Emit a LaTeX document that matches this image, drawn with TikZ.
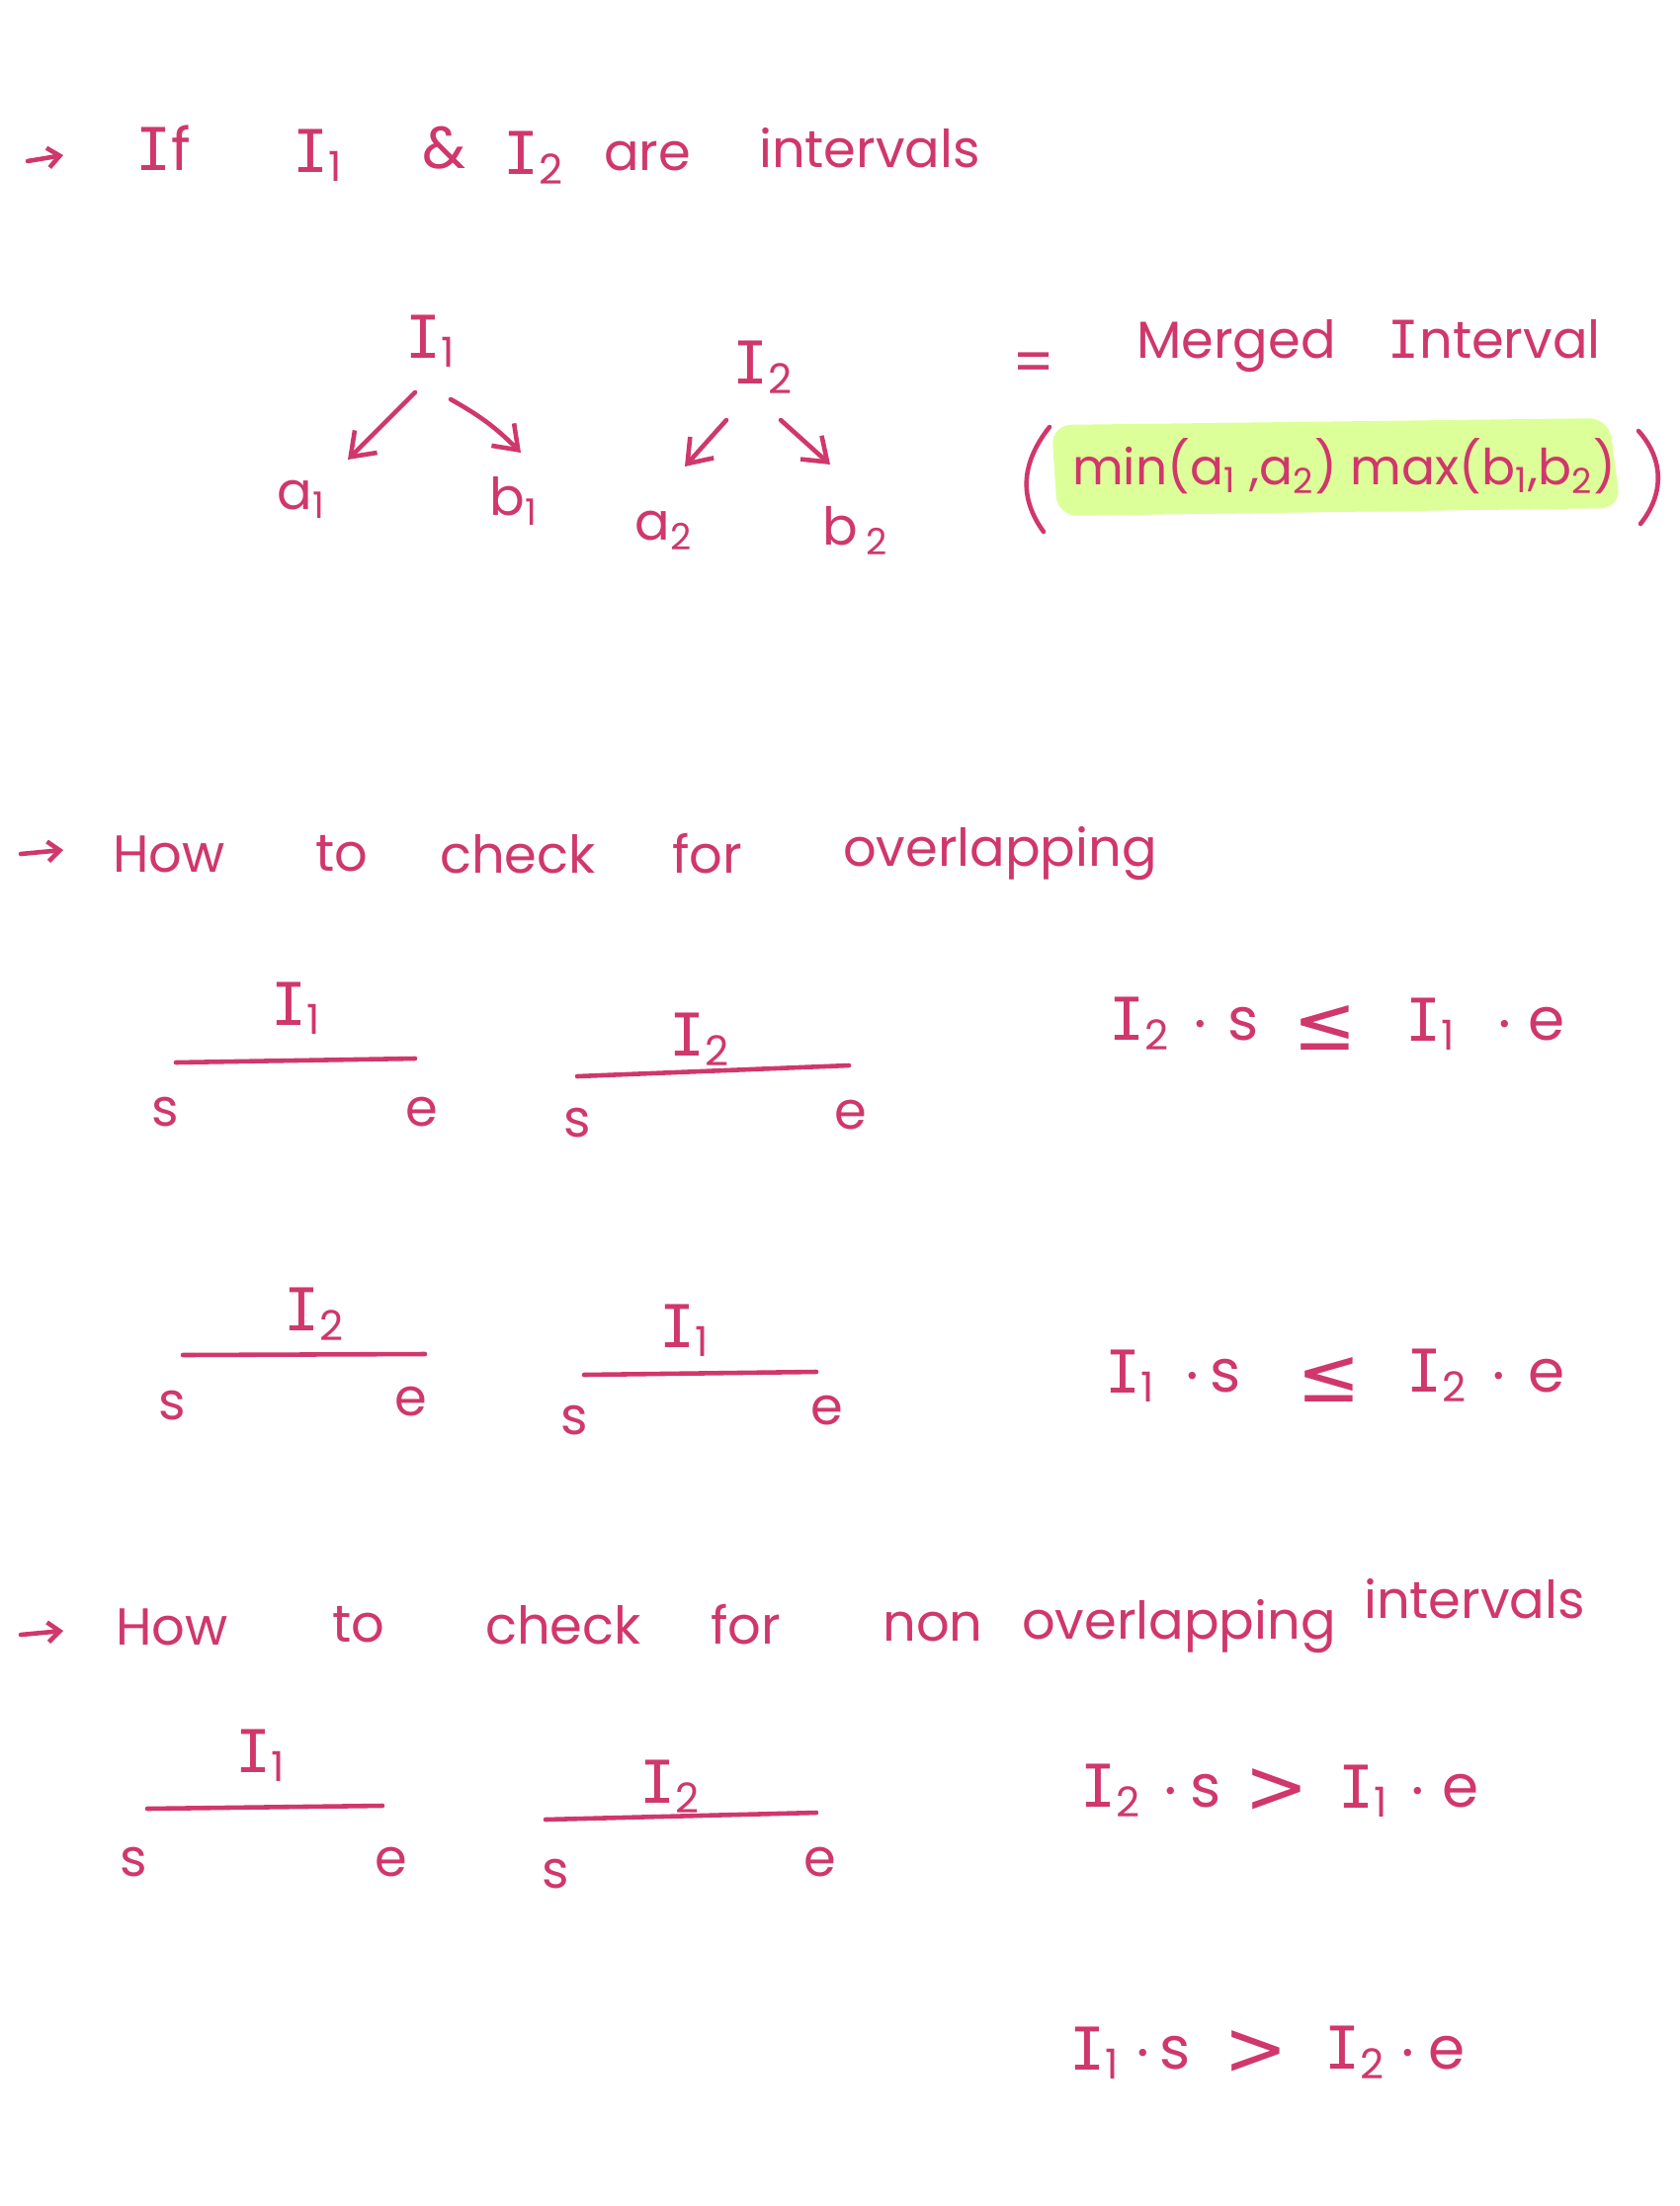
\documentclass[tikz,border=0pt]{standalone}
\usepackage{fontspec}
\usetikzlibrary{arrows.meta}
\setmainfont{Poppins}
\newfontfamily\symfont{DejaVu Sans}
\newfontfamily\Ifont{DejaVu Sans Mono}
\definecolor{ink}{HTML}{D0376B}
\definecolor{hl}{HTML}{DDFF99}
\newcommand{\myI}{{\Ifont I}}
\newcommand{\Ia}{\myI\textsubscript{1}}
\newcommand{\Ib}{\myI\textsubscript{2}}
\begin{document}
\begin{tikzpicture}[x=0.1mm,y={(0mm,-0.1mm)},
  txt/.style={text=ink,font=\fontsize{15}{18}\selectfont,inner sep=0pt},
  big/.style={text=ink,font=\fontsize{17}{20}\selectfont,inner sep=0pt},
  pen/.style={draw=ink,line width=1.3pt,line cap=round,line join=round},
  arr/.style={pen,-{Straight Barb[length=2.2mm,width=3.2mm]}},
  bullet/.style={pen,-{Straight Barb[length=1.2mm,width=2mm]}}]
\useasboundingbox[fill=white] (0,0) rectangle (1700,2232);

% ---- heading 1
\coordinate (h1a) at (28,163); \coordinate (h1b) at (64,157);
\draw[bullet] (h1a) -- (h1b);
\node[big] (if) at (165,150) {\myI f};
\node[big] (hI1) at (322,157) {\Ia};
\node[big] (amp) at (450,150) {\&};
\node[big] (hI2) at (540,160) {\Ib};
\node[txt] (are) at (655,158) {are};
\node[txt] (intervals) at (880,150) {intervals};

% ---- trees
\node[big] (tI1) at (436,345) {\Ia};
\node[txt] (ta1) at (305,505) {a\textsubscript{1}};
\node[txt] (tb1) at (520,507) {b\textsubscript{1}};
\coordinate (t1l0) at (420,397); \coordinate (t1l1) at (352,465);
\coordinate (t1r0) at (456,404); \coordinate (t1r1) at (527,458);
\draw[arr] (t1l0) -- (t1l1);
\draw[arr] (t1r0) to[bend left=8] (t1r1);

\node[big] (tI2) at (772,372) {\Ib};
\node[txt] (ta2) at (672,537) {a\textsubscript{2}};
\node[txt] (tb2) at (866,537) {b\,\textsubscript{2}};
\coordinate (t2l0) at (735,425); \coordinate (t2l1) at (693,472);
\coordinate (t2r0) at (790,425); \coordinate (t2r1) at (840,470);
\draw[arr] (t2l0) -- (t2l1);
\draw[arr] (t2r0) -- (t2r1);

% ---- merged interval
\node[big] (eq) at (1046,372) {=};
\node[txt] (merged) at (1385,350) {Merged\quad \myI nterval};
\fill[hl, rounded corners=2mm] (1064,430) -- (1628,423) -- (1640,514) -- (1070,522) -- cycle;
\coordinate (lp0) at (1062,432); \coordinate (lp1) at (1056,538);
\coordinate (rp0) at (1658,436); \coordinate (rp1) at (1660,530);
\draw[pen] (lp0) .. controls (1032,470) and (1032,505) .. (lp1);
\draw[pen] (rp0) .. controls (1684,465) and (1684,500) .. (rp1);
\node[txt,font=\fontsize{14.3}{17}\selectfont] (minmax) at (1360,472) {min(a\textsubscript{1} ,a\textsubscript{2})\ max(b\textsubscript{1},b\textsubscript{2})};

% ---- heading 2
\coordinate (h2a) at (21,864); \coordinate (h2b) at (64,860);
\draw[bullet] (h2a) -- (h2b);
\node[txt] (how2) at (171,864) {How};
\node[txt] (to2) at (346,864) {to};
\node[txt] (check2) at (524,864) {check};
\node[txt] (for2) at (716,864) {for};
\node[txt] (ovl2) at (1012,864) {overlapping};

% row 1
\node[big] (r1I1) at (300,1020) {\Ia};
\coordinate (r1a0) at (178,1075); \coordinate (r1a1) at (420,1071);
\draw[pen] (r1a0) -- (r1a1);
\node[txt] (r1s1) at (167,1125) {s};
\node[txt] (r1e1) at (427,1125) {e};
\node[big] (r1I2) at (708,1052) {\Ib};
\coordinate (r1b0) at (584,1089); \coordinate (r1b1) at (859,1078);
\draw[pen] (r1b0) -- (r1b1);
\node[txt] (r1s2) at (584,1136) {s};
\node[txt] (r1e2) at (861,1128) {e};
% condition 1
\node[big] (c1a) at (1153,1036) {\Ib};
\node[big] (c1b) at (1215,1036) {.};
\node[big] (c1c) at (1258,1036) {s};
\node[big,font=\symfont\fontsize{22}{24}\selectfont] (c1d) at (1341,1040) {≤};
\node[big] (c1e) at (1448,1036) {\Ia};
\node[big] (c1f) at (1523,1036) {.};
\node[big] (c1g) at (1565,1036) {e};

% row 2
\node[big] (r2I2) at (318,1330) {\Ib};
\coordinate (r2a0) at (185,1371); \coordinate (r2a1) at (430,1370);
\draw[pen] (r2a0) -- (r2a1);
\node[txt] (r2s1) at (174,1422) {s};
\node[txt] (r2e1) at (416,1418) {e};
\node[big] (r2I1) at (693,1346) {\Ia};
\coordinate (r2b0) at (591,1391); \coordinate (r2b1) at (826,1388);
\draw[pen] (r2b0) -- (r2b1);
\node[txt] (r2s2) at (581,1437) {s};
\node[txt] (r2e2) at (837,1427) {e};
% condition 2
\node[big] (c2a) at (1144,1392) {\Ia};
\node[big] (c2b) at (1207,1392) {.};
\node[big] (c2c) at (1240,1392) {s};
\node[big,font=\symfont\fontsize{22}{24}\selectfont] (c2d) at (1345,1396) {≤};
\node[big] (c2e) at (1454,1392) {\Ib};
\node[big] (c2f) at (1517,1392) {.};
\node[big] (c2g) at (1565,1392) {e};

% ---- heading 3
\coordinate (h3a) at (21,1654); \coordinate (h3b) at (64,1650);
\draw[bullet] (h3a) -- (h3b);
\node[txt] (how3) at (174,1646) {How};
\node[txt] (to3) at (363,1644) {to};
\node[txt] (check3) at (570,1644) {check};
\node[txt] (for3) at (755,1644) {for};
\node[txt] (non3) at (944,1646) {non};
\node[txt] (ovl3) at (1193,1646) {overlapping};
\node[txt] (int3) at (1492,1618) {intervals};

% row 3
\node[big] (r3I1) at (264,1776) {\Ia};
\coordinate (r3a0) at (149,1830); \coordinate (r3a1) at (387,1827);
\draw[pen] (r3a0) -- (r3a1);
\node[txt] (r3s1) at (135,1884) {s};
\node[txt] (r3e1) at (396,1884) {e};
\node[big] (r3I2) at (678,1808) {\Ib};
\coordinate (r3b0) at (552,1841); \coordinate (r3b1) at (826,1834);
\draw[pen] (r3b0) -- (r3b1);
\node[txt] (r3s2) at (562,1896) {s};
\node[txt] (r3e2) at (830,1884) {e};
% condition 3
\node[big] (c3a) at (1124,1812) {\Ib};
\node[big] (c3b) at (1185,1812) {.};
\node[big] (c3c) at (1220,1812) {s};
\node[big,font=\symfont\fontsize{22}{24}\selectfont] (c3d) at (1292,1812) {>};
\node[big] (c3e) at (1380,1812) {\Ia};
\node[big] (c3f) at (1435,1812) {.};
\node[big] (c3g) at (1478,1812) {e};

% condition 4
\node[big] (c4a) at (1108,2077) {\Ia};
\node[big] (c4b) at (1157,2077) {.};
\node[big] (c4c) at (1189,2077) {s};
\node[big,font=\symfont\fontsize{22}{24}\selectfont] (c4d) at (1271,2077) {>};
\node[big] (c4e) at (1371,2077) {\Ib};
\node[big] (c4f) at (1425,2077) {.};
\node[big] (c4g) at (1464,2077) {e};
\end{tikzpicture}
\end{document}
